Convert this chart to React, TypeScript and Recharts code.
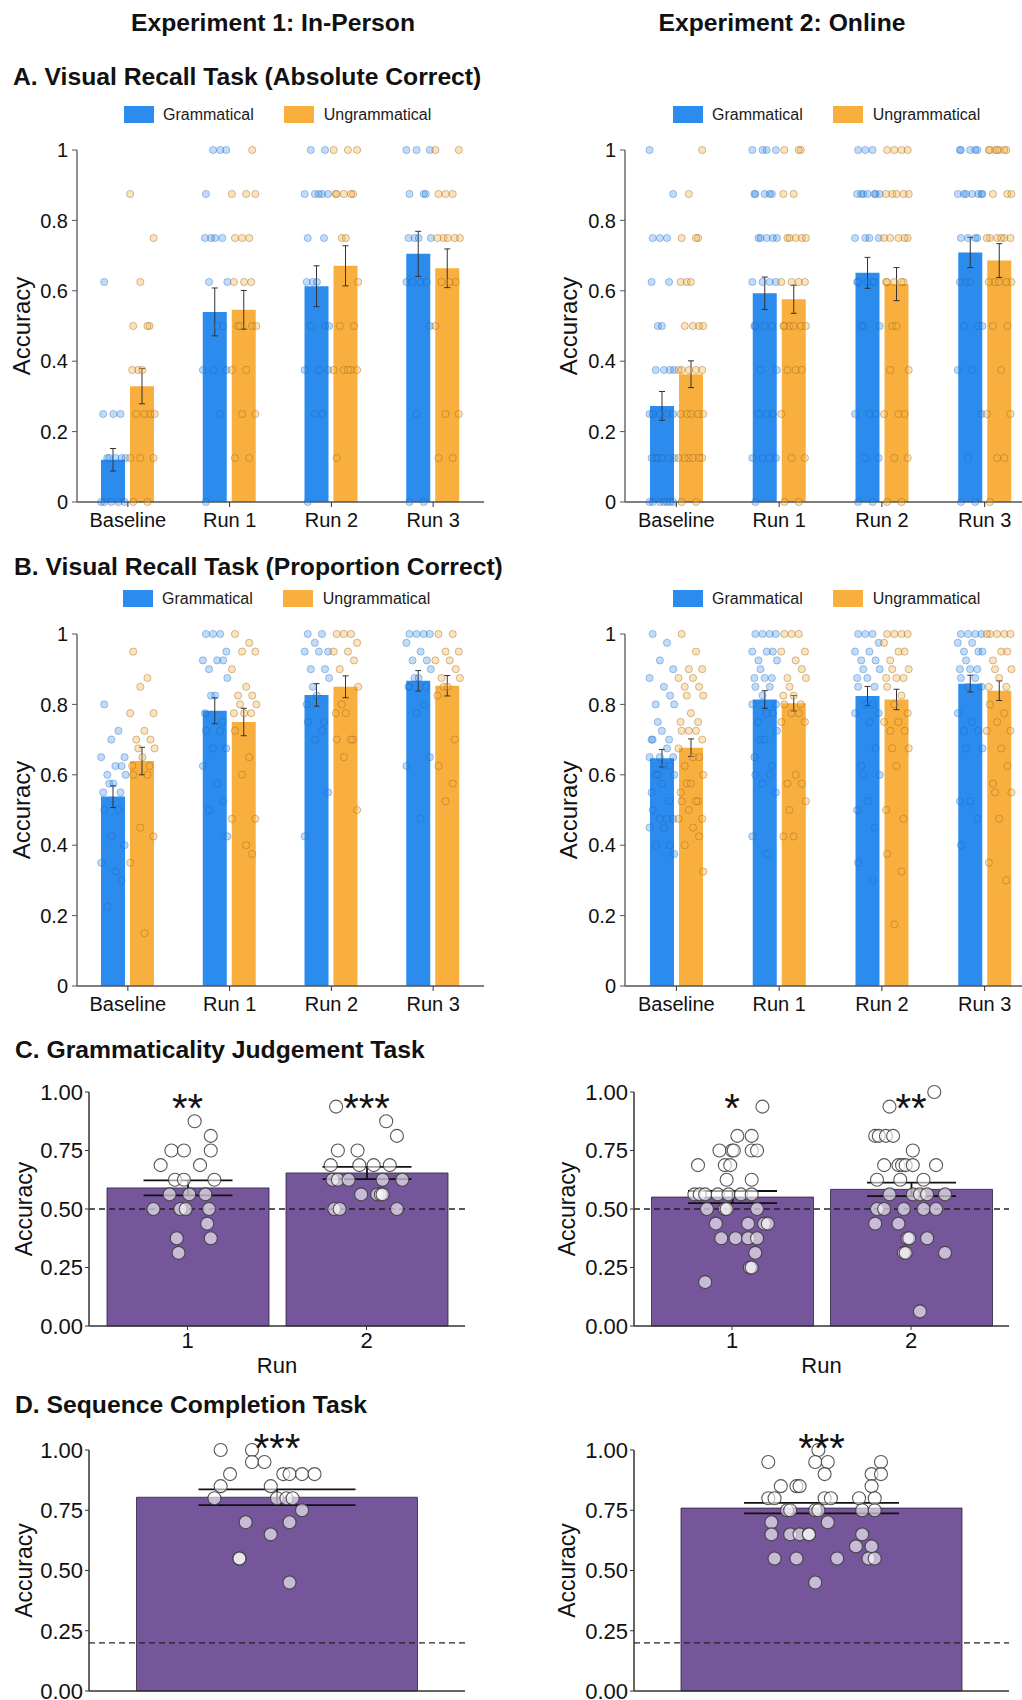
import React from "react";
import {
  ComposedChart,
  Bar,
  XAxis,
  YAxis,
  Scatter,
  ErrorBar,
  ReferenceLine,
  ReferenceDot,
} from "recharts";

const BLUE = "#2B8CEE";
const ORANGE = "#F8AF3E";
const PURPLE = "#76569B";
const FONT = '"Liberation Sans", Arial, Helvetica, sans-serif';

// ---- Panels A & B: visual recall task ----
const categories = ["Baseline", "Run 1", "Run 2", "Run 3"];
const levels = [0, 0.125, 0.25, 0.375, 0.5, 0.625, 0.75, 0.875, 1];

// A, experiment 1 (in-person): means and standard errors
const gramA1 = [0.12, 0.54, 0.613, 0.705];
const ungramA1 = [0.329, 0.546, 0.671, 0.664];
const seGA1 = [0.032, 0.068, 0.058, 0.064];
const seUA1 = [0.05, 0.055, 0.057, 0.055];
// participants per score level (0, .125 ... 1), one row per run
const countsGA1 = [
  [5, 5, 3, 0, 0, 1, 0, 0, 0],
  [1, 0, 1, 3, 2, 2, 4, 1, 3],
  [1, 0, 2, 3, 3, 3, 2, 5, 2],
  [2, 0, 1, 0, 1, 4, 4, 3, 3],
];
const countsUA1 = [
  [2, 3, 4, 3, 3, 1, 1, 1, 0],
  [0, 2, 2, 2, 4, 3, 3, 3, 1],
  [0, 1, 0, 5, 2, 1, 2, 5, 3],
  [0, 2, 2, 0, 1, 3, 5, 3, 2],
];

// A, experiment 2 (online)
const gramA2 = [0.273, 0.593, 0.651, 0.709];
const ungramA2 = [0.363, 0.576, 0.619, 0.686];
const seGA2 = [0.041, 0.046, 0.044, 0.043];
const seUA2 = [0.038, 0.04, 0.047, 0.048];
const countsGA2 = [
  [7, 6, 5, 4, 2, 2, 3, 1, 1],
  [1, 4, 3, 2, 4, 4, 5, 5, 4],
  [2, 2, 3, 0, 3, 5, 4, 7, 3],
  [2, 1, 1, 2, 3, 3, 4, 7, 5],
];
const countsUA2 = [
  [2, 6, 5, 5, 4, 3, 3, 1, 1],
  [2, 2, 1, 3, 6, 4, 5, 2, 3],
  [2, 2, 3, 2, 2, 5, 5, 5, 4],
  [1, 2, 2, 1, 2, 5, 6, 3, 7],
];

// B, experiment 1
const gramB1 = [0.538, 0.782, 0.827, 0.867];
const ungramB1 = [0.639, 0.75, 0.85, 0.853];
const seGB1 = [0.031, 0.037, 0.032, 0.029];
const seUB1 = [0.039, 0.039, 0.031, 0.029];
const dotsGB1 = [
  [0.8, 0.725, 0.7, 0.65, 0.65, 0.625, 0.625, 0.6, 0.6, 0.575, 0.575, 0.55, 0.55, 0.5, 0.5, 0.425, 0.4, 0.35, 0.325, 0.3, 0.225],
  [1, 1, 1, 0.95, 0.925, 0.925, 0.925, 0.9, 0.875, 0.825, 0.825, 0.775, 0.75, 0.725, 0.725, 0.675, 0.675, 0.625, 0.575, 0.525, 0.5, 0.425],
  [1, 1, 0.975, 0.95, 0.95, 0.95, 0.9, 0.9, 0.875, 0.85, 0.825, 0.8, 0.75, 0.75, 0.725, 0.7, 0.55, 0.425],
  [1, 1, 1, 1, 0.975, 0.95, 0.925, 0.925, 0.9, 0.875, 0.875, 0.85, 0.85, 0.85, 0.8, 0.775, 0.65, 0.625, 0.475],
];
const dotsUB1 = [
  [0.95, 0.875, 0.85, 0.775, 0.775, 0.725, 0.7, 0.7, 0.675, 0.675, 0.65, 0.625, 0.625, 0.6, 0.6, 0.45, 0.425, 0.35, 0.15],
  [1, 0.975, 0.95, 0.95, 0.9, 0.85, 0.825, 0.825, 0.8, 0.8, 0.775, 0.775, 0.775, 0.725, 0.65, 0.6, 0.475, 0.475, 0.4, 0.375],
  [1, 1, 1, 0.975, 0.95, 0.95, 0.925, 0.9, 0.85, 0.8, 0.775, 0.775, 0.7, 0.7, 0.7, 0.65, 0.5],
  [1, 1, 0.95, 0.95, 0.925, 0.925, 0.9, 0.875, 0.875, 0.85, 0.85, 0.825, 0.7, 0.625, 0.575, 0.525],
];

// B, experiment 2
const gramB2 = [0.647, 0.814, 0.824, 0.859];
const ungramB2 = [0.677, 0.803, 0.814, 0.839];
const seGB2 = [0.025, 0.025, 0.027, 0.024];
const seUB2 = [0.025, 0.022, 0.029, 0.028];
const dotsGB2 = [
  [1, 0.975, 0.925, 0.9, 0.875, 0.85, 0.825, 0.8, 0.8, 0.75, 0.725, 0.7, 0.7, 0.7, 0.675, 0.65, 0.65, 0.65, 0.625, 0.625, 0.6, 0.6, 0.6, 0.575, 0.55, 0.525, 0.5, 0.475, 0.475, 0.475, 0.45, 0.45, 0.4, 0.4, 0.375],
  [1, 1, 1, 1, 0.95, 0.95, 0.95, 0.925, 0.925, 0.9, 0.875, 0.875, 0.875, 0.85, 0.85, 0.825, 0.8, 0.8, 0.775, 0.775, 0.75, 0.725, 0.7, 0.7, 0.65, 0.625, 0.6, 0.6, 0.575, 0.55, 0.425, 0.375],
  [1, 1, 1, 0.975, 0.95, 0.95, 0.925, 0.925, 0.9, 0.9, 0.875, 0.875, 0.85, 0.85, 0.8, 0.8, 0.775, 0.775, 0.75, 0.675, 0.625, 0.6, 0.6, 0.525, 0.5, 0.45, 0.35, 0.3],
  [1, 1, 1, 1, 0.975, 0.975, 0.95, 0.95, 0.95, 0.925, 0.9, 0.9, 0.9, 0.875, 0.875, 0.85, 0.85, 0.775, 0.75, 0.725, 0.725, 0.675, 0.675, 0.525, 0.525, 0.475, 0.4],
];
const dotsUB2 = [
  [1, 0.95, 0.9, 0.9, 0.875, 0.875, 0.85, 0.85, 0.825, 0.825, 0.775, 0.75, 0.75, 0.725, 0.725, 0.725, 0.7, 0.675, 0.65, 0.65, 0.625, 0.6, 0.575, 0.575, 0.55, 0.525, 0.525, 0.525, 0.5, 0.475, 0.475, 0.45, 0.425, 0.4, 0.325],
  [1, 1, 1, 0.95, 0.95, 0.925, 0.9, 0.875, 0.875, 0.85, 0.825, 0.825, 0.8, 0.8, 0.775, 0.775, 0.75, 0.75, 0.6, 0.575, 0.575, 0.525, 0.5, 0.425, 0.425],
  [1, 1, 1, 1, 0.975, 0.95, 0.95, 0.925, 0.9, 0.9, 0.875, 0.875, 0.875, 0.85, 0.825, 0.8, 0.775, 0.75, 0.75, 0.725, 0.725, 0.675, 0.675, 0.625, 0.5, 0.475, 0.375, 0.325, 0.175],
  [1, 1, 1, 1, 1, 0.95, 0.95, 0.925, 0.9, 0.9, 0.875, 0.85, 0.85, 0.8, 0.775, 0.75, 0.725, 0.725, 0.675, 0.625, 0.575, 0.55, 0.55, 0.475, 0.35, 0.3],
];

// horizontal jitter pattern (fraction of a category band), cycled through
const JITTER = [-0.09, 0.05, -0.02, 0.11, -0.12, 0.02, 0.08, -0.06, 0.12, -0.04, 0.0, -0.1, 0.07];

// ---- Panels C & D: purple bars ----
const runs = ["1", "2"];
const meansC1 = [0.59, 0.654];
const seC1 = [0.032, 0.026];
const starsC1 = ["**", "***"];
// [accuracy, jitter offset]
const dotsC1: [number, number][][] = [
  [[0.875, 0.04], [0.8125, 0.13], [0.75, -0.09], [0.75, -0.02], [0.75, 0.13], [0.6875, -0.15], [0.6875, 0.07], [0.625, -0.07], [0.625, -0.02], [0.625, 0.15], [0.5625, -0.1], [0.5625, 0.01], [0.5625, 0.1], [0.5, -0.19], [0.5, -0.04], [0.5, -0.01], [0.5, 0.12], [0.4375, 0.11], [0.375, -0.06], [0.375, 0.13], [0.3125, -0.05]],
  [[0.9375, -0.17], [0.875, 0.11], [0.8125, 0.17], [0.75, -0.16], [0.75, -0.05], [0.6875, -0.2], [0.6875, -0.04], [0.6875, 0.04], [0.6875, 0.13], [0.625, -0.19], [0.625, -0.16], [0.625, -0.1], [0.625, 0.09], [0.625, 0.2], [0.5625, -0.03], [0.5625, 0.06], [0.5625, 0.08], [0.5625, 0.09], [0.5, -0.18], [0.5, -0.15], [0.5, 0.17]],
];
const meansC2 = [0.551, 0.584];
const seC2 = [0.026, 0.029];
const starsC2 = ["*", "**"];
const dotsC2: [number, number][][] = [
  [[0.9375, 0.17], [0.8125, 0.03], [0.8125, 0.11], [0.75, -0.07], [0.75, 0.0], [0.75, 0.01], [0.75, 0.11], [0.75, 0.14], [0.6875, -0.19], [0.6875, -0.04], [0.6875, -0.01], [0.625, -0.03], [0.625, 0.11], [0.5625, -0.21], [0.5625, -0.18], [0.5625, -0.15], [0.5625, -0.08], [0.5625, -0.02], [0.5625, 0.05], [0.5625, 0.11], [0.5, -0.14], [0.5, -0.04], [0.5, -0.03], [0.5, 0.14], [0.4375, -0.09], [0.4375, 0.09], [0.4375, 0.18], [0.4375, 0.2], [0.375, -0.06], [0.375, 0.02], [0.375, 0.09], [0.375, 0.14], [0.3125, 0.13], [0.25, 0.1], [0.25, 0.11], [0.1875, -0.15]],
  [[1, 0.13], [0.9375, -0.12], [0.8125, -0.2], [0.8125, -0.18], [0.8125, -0.14], [0.8125, -0.1], [0.75, 0.01], [0.6875, -0.15], [0.6875, -0.07], [0.6875, -0.05], [0.6875, -0.03], [0.6875, 0.01], [0.6875, 0.14], [0.625, -0.19], [0.625, -0.06], [0.625, 0.07], [0.5625, -0.12], [0.5625, 0.01], [0.5625, 0.05], [0.5625, 0.09], [0.5625, 0.19], [0.5, -0.19], [0.5, -0.15], [0.5, -0.04], [0.5, 0.07], [0.5, 0.14], [0.4375, -0.2], [0.4375, -0.07], [0.375, -0.02], [0.375, -0.01], [0.375, 0.09], [0.3125, -0.04], [0.3125, -0.03], [0.3125, 0.19], [0.0625, 0.05]],
];

const seqTask = [""];
const meansD1 = [0.804];
const seD1 = [0.033];
const starsD1 = ["***"];
const dotsD1: [number, number][][] = [
  [[1, -0.18], [1, -0.08], [0.95, -0.08], [0.95, -0.04], [0.9, -0.15], [0.9, 0.02], [0.9, 0.04], [0.9, 0.08], [0.9, 0.12], [0.85, -0.18], [0.85, -0.02], [0.8, -0.2], [0.8, 0.0], [0.8, 0.03], [0.8, 0.05], [0.75, 0.08], [0.7, -0.1], [0.7, 0.04], [0.65, -0.02], [0.55, -0.12], [0.55, -0.12], [0.45, 0.04]],
];
const meansD2 = [0.759];
const seD2 = [0.022];
const starsD2 = ["***"];
const dotsD2: [number, number][][] = [
  [[1, -0.01], [0.95, -0.17], [0.95, -0.02], [0.95, 0.02], [0.95, 0.19], [0.9, 0.01], [0.9, 0.16], [0.9, 0.19], [0.85, -0.13], [0.85, -0.08], [0.85, -0.07], [0.85, 0.16], [0.8, -0.17], [0.8, -0.15], [0.8, 0.01], [0.8, 0.03], [0.8, 0.12], [0.8, 0.17], [0.75, -0.11], [0.75, -0.1], [0.75, -0.02], [0.75, -0.01], [0.75, 0.13], [0.75, 0.17], [0.7, -0.16], [0.7, 0.02], [0.65, -0.16], [0.65, -0.1], [0.65, -0.07], [0.65, -0.04], [0.65, -0.04], [0.65, 0.13], [0.6, 0.11], [0.6, 0.16], [0.55, -0.15], [0.55, -0.08], [0.55, 0.05], [0.55, 0.15], [0.55, 0.17], [0.45, -0.02]],
];

// ---- helpers ----
const fromCounts = (counts: number[][]) =>
  counts.map((row) => row.flatMap((c, k) => Array.from({ length: c }, () => levels[k])));

const jitterPoints = (groups: number[][], shift: number) =>
  groups.flatMap((vals, i) => vals.map((v, k) => ({ x: i + shift + JITTER[k % JITTER.length], y: v })));

const yTitle = (dx: number, size: number) => (props: any) => {
  const vb = props.viewBox;
  const cx = vb.x + dx;
  const cy = vb.y + vb.height / 2;
  return (
    <text x={cx} y={cy} transform={`rotate(-90 ${cx} ${cy})`} textAnchor="middle" dominantBaseline="central" fontSize={size} fill="#111">
      Accuracy
    </text>
  );
};

const xTitle = (text: string, dy: number) => (props: any) => {
  const vb = props.viewBox;
  return (
    <text x={vb.x + vb.width / 2} y={vb.y + dy} textAnchor="middle" fontSize={22} fill="#111">
      {text}
    </text>
  );
};

const starLabel = (text: string) => (props: any) => {
  const vb = props.viewBox;
  const cx = vb.x + vb.width / 2;
  const cy = vb.y + vb.height / 2;
  return (
    <text x={cx} y={cy + 23} textAnchor="middle" fontSize={40} fill="#111">
      {text}
    </text>
  );
};

const Heading = ({ text, left, top, width, align }: { text: string; left: number; top: number; width?: number; align?: "left" | "center" }) => (
  <div style={{ position: "absolute", left, top, width, textAlign: align || "left", fontSize: 24.7, lineHeight: "25px", fontWeight: 700, whiteSpace: "nowrap", color: "#111" }}>
    {text}
  </div>
);

const LegendRow = ({ left, top }: { left: number; top: number }) => (
  <div style={{ position: "absolute", left, top, display: "flex", alignItems: "center", fontSize: 16, lineHeight: "17px", color: "#1a1a1a" }}>
    <span style={{ width: 30, height: 17, background: BLUE, marginRight: 9 }} />
    <span style={{ marginRight: 30 }}>Grammatical</span>
    <span style={{ width: 30, height: 17, background: ORANGE, marginRight: 10 }} />
    <span>Ungrammatical</span>
  </div>
);

interface RecallProps {
  gram: number[];
  ungram: number[];
  seG: number[];
  seU: number[];
  dotsG: number[][];
  dotsU: number[][];
  axisWidth: number;
  plotWidth: number;
  titleDx: number;
}

const RecallChart = ({ gram, ungram, seG, seU, dotsG, dotsU, axisWidth, plotWidth, titleDx }: RecallProps) => {
  const rows = categories.map((name, i) => ({ name, g: gram[i], u: ungram[i], seG: seG[i], seU: seU[i] }));
  const shift = 14.5 / (plotWidth / categories.length);
  const ptsG = jitterPoints(dotsG, -shift);
  const ptsU = jitterPoints(dotsU, shift);
  const axis = { stroke: "#555", strokeWidth: 1.3 };
  return (
    <ComposedChart width={axisWidth + plotWidth + 10} height={412} data={rows} margin={{ top: 20, right: 10, bottom: 0, left: 0 }} barGap={5}>
      <XAxis dataKey="name" height={40} interval={0} tickSize={5} tickMargin={6} tick={{ fontSize: 20, fill: "#111" }} axisLine={axis} tickLine={{ stroke: "#333" }} />
      <XAxis xAxisId="e" dataKey="name" hide />
      <XAxis xAxisId="n" type="number" dataKey="x" domain={[-0.5, categories.length - 0.5]} allowDataOverflow hide />
      <YAxis width={axisWidth} domain={[0, 1]} ticks={[0, 0.2, 0.4, 0.6, 0.8, 1]} tickSize={5} tickMargin={4} tick={{ fontSize: 20, fill: "#111" }} axisLine={axis} tickLine={{ stroke: "#555" }} label={yTitle(titleDx, 24)} />
      <Bar dataKey="g" name="Grammatical" fill={BLUE} barSize={24} isAnimationActive={false} />
      <Bar dataKey="u" name="Ungrammatical" fill={ORANGE} barSize={24} isAnimationActive={false} />
      <Scatter xAxisId="n" data={ptsG} dataKey="y" isAnimationActive={false}
        shape={(p: any) => <circle cx={p.cx} cy={p.cy} r={3.6} fill={BLUE} fillOpacity={0.3} stroke="#1E5FAF" strokeOpacity={0.35} strokeWidth={1} />} />
      <Scatter xAxisId="n" data={ptsU} dataKey="y" isAnimationActive={false}
        shape={(p: any) => <circle cx={p.cx} cy={p.cy} r={3.6} fill={ORANGE} fillOpacity={0.35} stroke="#8F6218" strokeOpacity={0.4} strokeWidth={1} />} />
      <Bar xAxisId="e" dataKey="g" fill="none" barSize={24} isAnimationActive={false}>
        <ErrorBar dataKey="seG" width={3} stroke="#333" strokeWidth={1} isAnimationActive={false} />
      </Bar>
      <Bar xAxisId="e" dataKey="u" fill="none" barSize={24} isAnimationActive={false}>
        <ErrorBar dataKey="seU" width={3} stroke="#333" strokeWidth={1} isAnimationActive={false} />
      </Bar>
    </ComposedChart>
  );
};

interface PurpleProps {
  cats: string[];
  means: number[];
  ses: number[];
  dots: [number, number][][];
  stars: string[];
  starY: number;
  chance: number;
  axisWidth: number;
  plotWidth: number;
  plotHeight: number;
  top: number;
  xHeight: number;
  pad: number;
  barSize: number;
  whisker: number;
  titleDx: number;
  showTicks: boolean;
  runTitle?: string;
}

const PurpleChart = (p: PurpleProps) => {
  const rows = p.cats.map((name, i) => ({ name, m: p.means[i], se: p.ses[i] }));
  const band = (p.plotWidth - 2 * p.pad) / p.cats.length;
  const ext = p.pad / band;
  const pts = p.dots.flatMap((grp, i) => grp.map(([v, off]) => ({ x: i + off, y: v })));
  const axis = { stroke: "#333", strokeWidth: 1.5 };
  return (
    <ComposedChart width={p.axisWidth + p.plotWidth + 10} height={p.top + p.plotHeight + p.xHeight} data={rows} margin={{ top: p.top, right: 10, bottom: 0, left: 0 }}>
      <XAxis dataKey="name" height={p.xHeight} interval={0} padding={{ left: p.pad, right: p.pad }} tickSize={4} tickMargin={2}
        tick={p.showTicks ? { fontSize: 22, fill: "#111" } : false} axisLine={axis} tickLine={p.showTicks ? { stroke: "#333" } : false}
        label={p.runTitle ? xTitle(p.runTitle, 47) : undefined} />
      <XAxis xAxisId="e" dataKey="name" padding={{ left: p.pad, right: p.pad }} hide />
      <XAxis xAxisId="n" type="number" dataKey="x" domain={[-0.5 - ext, p.cats.length - 0.5 + ext]} allowDataOverflow hide />
      <YAxis width={p.axisWidth} domain={[0, 1]} ticks={[0, 0.25, 0.5, 0.75, 1]} tickFormatter={(v: number) => v.toFixed(2)} tickSize={4} tickMargin={2}
        tick={{ fontSize: 22, fill: "#111" }} axisLine={axis} tickLine={{ stroke: "#333" }} label={yTitle(p.titleDx, 23)} />
      <Bar dataKey="m" fill={PURPLE} stroke="#2E2040" strokeWidth={0.8} barSize={p.barSize} isAnimationActive={false} />
      <ReferenceLine xAxisId="n" y={p.chance} stroke="#222" strokeWidth={1.3} strokeDasharray="6 4" />
      <Scatter xAxisId="n" data={pts} dataKey="y" isAnimationActive={false}
        shape={(s: any) => <circle cx={s.cx} cy={s.cy} r={6.5} fill="#fff" fillOpacity={0.6} stroke="#3a3a3a" strokeOpacity={0.85} strokeWidth={1.1} />} />
      <Bar xAxisId="e" dataKey="m" fill="none" barSize={p.barSize} isAnimationActive={false}>
        <ErrorBar dataKey="se" width={p.whisker} stroke="#111" strokeWidth={1.8} isAnimationActive={false} />
      </Bar>
      {p.stars.map((s, i) => (
        <ReferenceDot key={i} xAxisId="n" x={i} y={p.starY} r={1} fill="none" stroke="none" ifOverflow="visible" label={starLabel(s)} />
      ))}
    </ComposedChart>
  );
};

const place = (left: number, top: number, child: React.ReactNode) => (
  <div style={{ position: "absolute", left, top }}>{child}</div>
);

export default function App() {
  return (
    <div style={{ position: "absolute", left: 0, top: 0, width: 1022, height: 1700, overflow: "hidden", background: "#fff", fontFamily: FONT, color: "#111" }}>
      <Heading text="Experiment 1: In-Person" left={73} top={10} width={400} align="center" />
      <Heading text="Experiment 2: Online" left={582} top={10} width={400} align="center" />
      <Heading text="A. Visual Recall Task (Absolute Correct)" left={13} top={64} />
      <Heading text="B. Visual Recall Task (Proportion Correct)" left={14} top={554} />
      <Heading text="C. Grammaticality Judgement Task" left={15} top={1037} />
      <Heading text="D. Sequence Completion Task" left={15} top={1392} />

      <LegendRow left={124} top={106} />
      <LegendRow left={673} top={106} />
      <LegendRow left={123} top={590} />
      <LegendRow left={673} top={590} />

      {place(0, 130, <RecallChart gram={gramA1} ungram={ungramA1} seG={seGA1} seU={seUA1} dotsG={fromCounts(countsGA1)} dotsU={fromCounts(countsUA1)} axisWidth={77} plotWidth={407} titleDx={21} />)}
      {place(511, 130, <RecallChart gram={gramA2} ungram={ungramA2} seG={seGA2} seU={seUA2} dotsG={fromCounts(countsGA2)} dotsU={fromCounts(countsUA2)} axisWidth={114} plotWidth={411} titleDx={57} />)}
      {place(0, 614, <RecallChart gram={gramB1} ungram={ungramB1} seG={seGB1} seU={seUB1} dotsG={dotsGB1} dotsU={dotsUB1} axisWidth={77} plotWidth={407} titleDx={21} />)}
      {place(511, 614, <RecallChart gram={gramB2} ungram={ungramB2} seG={seGB2} seU={seUB2} dotsG={dotsGB2} dotsU={dotsUB2} axisWidth={114} plotWidth={411} titleDx={57} />)}

      {place(0, 1062, <PurpleChart cats={runs} means={meansC1} ses={seC1} dots={dotsC1} stars={starsC1} starY={0.97} chance={0.5} axisWidth={89} plotWidth={376} plotHeight={234} top={30} xHeight={58} pad={9} barSize={162} whisker={44.5} titleDx={24} showTicks runTitle="Run" />)}
      {place(511, 1062, <PurpleChart cats={runs} means={meansC2} ses={seC2} dots={dotsC2} stars={starsC2} starY={0.97} chance={0.5} axisWidth={123} plotWidth={375} plotHeight={234} top={30} xHeight={58} pad={8.5} barSize={162} whisker={44.5} titleDx={56} showTicks runTitle="Run" />)}

      {place(0, 1410, <PurpleChart cats={seqTask} means={meansD1} ses={seD1} dots={dotsD1} stars={starsD1} starY={1.046} chance={0.2} axisWidth={89} plotWidth={376} plotHeight={241} top={40} xHeight={30} pad={31.5} barSize={281} whisker={78.5} titleDx={24} showTicks={false} />)}
      {place(511, 1410, <PurpleChart cats={seqTask} means={meansD2} ses={seD2} dots={dotsD2} stars={starsD2} starY={1.046} chance={0.2} axisWidth={123} plotWidth={375} plotHeight={241} top={40} xHeight={30} pad={31} barSize={281} whisker={77.5} titleDx={56} showTicks={false} />)}
    </div>
  );
}
